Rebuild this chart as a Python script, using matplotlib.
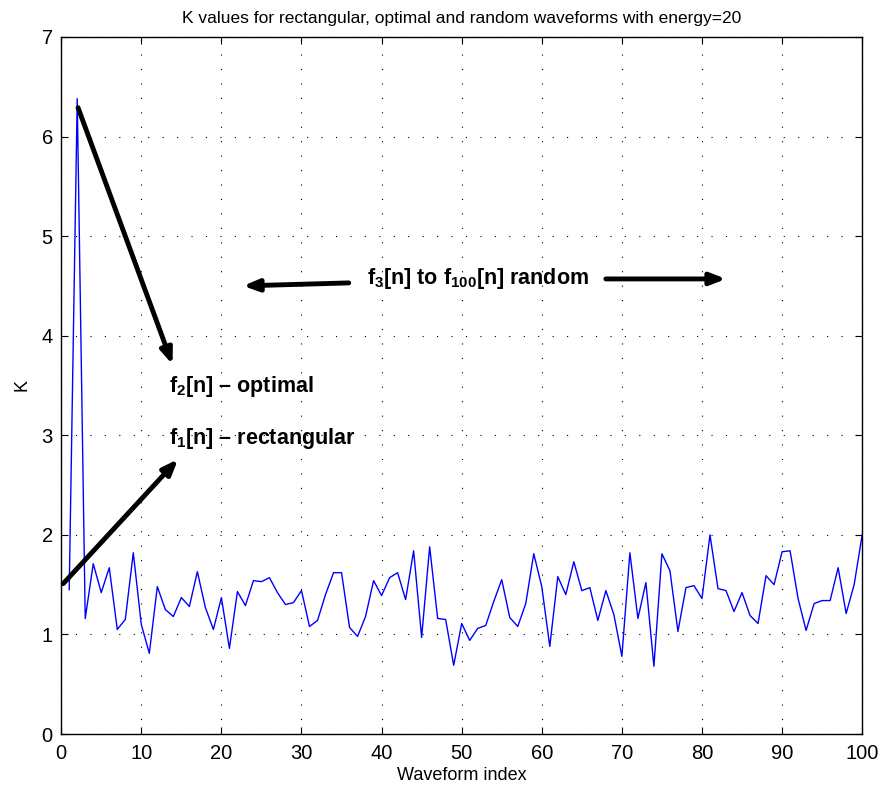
import numpy as np
import matplotlib.pyplot as plt

plt.rcParams['font.family'] = ['Liberation Sans', 'DejaVu Sans']
plt.rcParams['mathtext.fontset'] = 'custom'
plt.rcParams['mathtext.rm'] = 'Liberation Sans'
plt.rcParams['mathtext.bf'] = 'Liberation Sans:bold'

# K value for each waveform (index 1..100)
k_values = [
    1.45, 6.38, 1.16, 1.71, 1.42, 1.67, 1.05, 1.15, 1.82, 1.10,
    0.81, 1.48, 1.25, 1.18, 1.37, 1.28, 1.63, 1.27, 1.05, 1.37,
    0.86, 1.43, 1.29, 1.54, 1.53, 1.57, 1.42, 1.30, 1.32, 1.44,
    1.08, 1.14, 1.40, 1.62, 1.62, 1.07, 0.98, 1.18, 1.54, 1.39,
    1.57, 1.62, 1.35, 1.84, 0.97, 1.88, 1.16, 1.15, 0.69, 1.11,
    0.94, 1.06, 1.09, 1.33, 1.55, 1.17, 1.08, 1.31, 1.81, 1.48,
    0.88, 1.58, 1.40, 1.73, 1.44, 1.47, 1.14, 1.44, 1.20, 0.78,
    1.82, 1.16, 1.52, 0.68, 1.81, 1.64, 1.03, 1.47, 1.49, 1.36,
    2.00, 1.46, 1.44, 1.23, 1.42, 1.19, 1.11, 1.59, 1.50, 1.83,
    1.84, 1.36, 1.04, 1.31, 1.34, 1.34, 1.67, 1.21, 1.50, 2.00,
]
waveform_index = np.arange(1, len(k_values) + 1)

fig = plt.figure(figsize=(8.87, 7.93), dpi=100)
ax = fig.add_axes([0.069, 0.0744, 0.903, 0.879])

ax.plot(waveform_index, k_values, color='blue', linewidth=1)

ax.set_xlim(0, 100)
ax.set_ylim(0, 7)
ax.set_xticks(np.arange(0, 101, 10))
ax.set_yticks(np.arange(0, 8, 1))
ax.tick_params(labelsize=14.5, direction='in', length=5, top=True, right=True)
ax.tick_params(axis='x', pad=7)
ax.tick_params(axis='y', pad=6)
ax.grid(True, linestyle=(0, (1, 12)), color='black', linewidth=0.8)
for s in ax.spines.values():
    s.set_linewidth(1)

ax.set_xlabel('Waveform index', fontsize=13, labelpad=3)
ax.set_ylabel('K', fontsize=13, labelpad=8)
ax.set_title('K values for rectangular, optimal and random waveforms with energy=20',
             fontsize=12.5, pad=10)

# annotations
arrow = dict(arrowstyle='-|>,head_length=0.9,head_width=0.35', color='black',
             linewidth=3.5, shrinkA=0, shrinkB=0)
ax.annotate('', xy=(13.9, 3.71), xytext=(2.1, 6.29), arrowprops=arrow)
ax.annotate('', xy=(14.6, 2.76), xytext=(0.25, 1.51), arrowprops=arrow)
ax.annotate('', xy=(22.7, 4.50), xytext=(35.9, 4.53), arrowprops=arrow)
ax.annotate('', xy=(83.0, 4.57), xytext=(68.0, 4.57), arrowprops=arrow)

ax.text(13.4, 3.49, r'f$_\mathbf{2}$[n] – optimal', fontsize=15.5, fontweight='bold',
        va='center', ha='left')
ax.text(13.4, 2.97, r'f$_\mathbf{1}$[n] – rectangular', fontsize=15.5, fontweight='bold',
        va='center', ha='left')
ax.text(52.0, 4.57, r'f$_\mathbf{3}$[n] to f$_\mathbf{100}$[n] random', fontsize=15.5,
        fontweight='bold', va='center', ha='center')

fig.savefig('out.png', dpi=100)
